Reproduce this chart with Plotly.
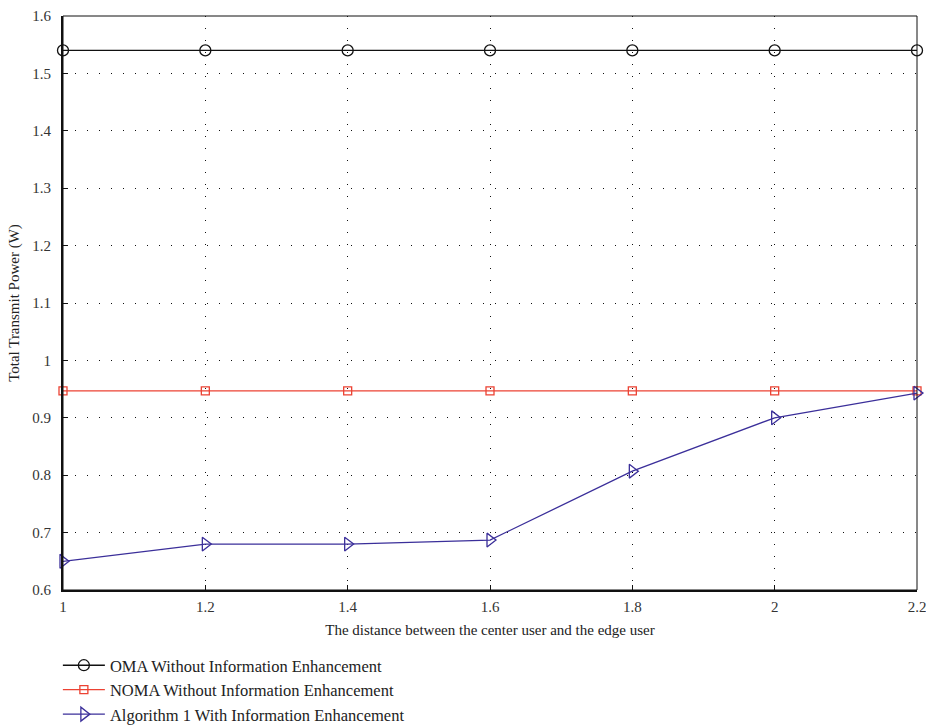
import plotly.graph_objects as go

distance = [1.0, 1.2, 1.4, 1.6, 1.8, 2.0, 2.2]
oma_power = [1.54, 1.54, 1.54, 1.54, 1.54, 1.54, 1.54]
noma_power = [0.947, 0.947, 0.947, 0.947, 0.947, 0.947, 0.947]
alg1_power = [0.650, 0.680, 0.680, 0.687, 0.807, 0.900, 0.943]

x_ticks = [1.0, 1.2, 1.4, 1.6, 1.8, 2.0, 2.2]
x_ticklabels = ["1", "1.2", "1.4", "1.6", "1.8", "2", "2.2"]
y_ticks = [0.6, 0.7, 0.8, 0.9, 1.0, 1.1, 1.2, 1.3, 1.4, 1.5, 1.6]
y_ticklabels = ["0.6", "0.7", "0.8", "0.9", "1", "1.1", "1.2", "1.3", "1.4", "1.5", "1.6"]

FONT = "Liberation Serif"
BLACK = "#111111"
RED = "#ec4233"
BLUE = "#3b2f9a"

fig = go.Figure()
fig.add_trace(go.Scatter(
    x=distance, y=oma_power, mode="lines+markers",
    name="OMA Without Information Enhancement",
    line=dict(color=BLACK, width=1.3),
    marker=dict(symbol="circle-open", size=11, color=BLACK, line=dict(width=1.3)),
    cliponaxis=False))
fig.add_trace(go.Scatter(
    x=distance, y=noma_power, mode="lines+markers",
    name="NOMA Without Information Enhancement",
    line=dict(color=RED, width=1.3),
    marker=dict(symbol="square-open", size=8, color=RED, line=dict(width=1.3)),
    cliponaxis=False))
fig.add_trace(go.Scatter(
    x=distance, y=alg1_power, mode="lines+markers",
    name="Algorithm 1 With Information Enhancement",
    line=dict(color=BLUE, width=1.3),
    marker=dict(symbol="triangle-right-open", size=12, color=BLUE, line=dict(width=1.3)),
    cliponaxis=False))

fig.add_shape(type="rect", xref="paper", yref="paper", x0=0, x1=1, y0=0, y1=1,
              line=dict(color=BLACK, width=1), layer="above")

fig.update_layout(
    width=926, height=728,
    margin=dict(l=63, r=9, t=16, b=138, autoexpand=False),
    plot_bgcolor="white", paper_bgcolor="white",
    font=dict(family=FONT, size=15, color="#333333"),
    xaxis=dict(
        range=[1.0, 2.2], tickvals=x_ticks, ticktext=x_ticklabels,
        showline=True, linecolor=BLACK, linewidth=2,
        ticks="inside", ticklen=5, tickcolor=BLACK, tickwidth=1,
        showgrid=True, gridcolor=BLACK, gridwidth=1, griddash="1px,11px",
        zeroline=False, ticklabeloverflow="allow", ticklabelstandoff=2,
        title=dict(text="The distance between the center user and the edge user",
                   font=dict(family=FONT, size=15, color="#222222"), standoff=10),
        tickfont=dict(family=FONT, size=15, color="#333333"),
        automargin=False,
    ),
    yaxis=dict(
        range=[0.6, 1.6], tickvals=y_ticks, ticktext=y_ticklabels,
        showline=True, linecolor=BLACK, linewidth=2,
        ticks="inside", ticklen=5, tickcolor=BLACK, tickwidth=1,
        showgrid=True, gridcolor=BLACK, gridwidth=1, griddash="1px,11px",
        zeroline=False, ticklabelstandoff=7,
        title=dict(text="Total Transmit Power (W)",
                   font=dict(family=FONT, size=15, color="#222222"), standoff=9),
        tickfont=dict(family=FONT, size=15, color="#333333"),
        automargin=False,
    ),
    legend=dict(
        x=-0.006, y=1 - 648 / 728, xanchor="left", yanchor="top", yref="container",
        bgcolor="rgba(0,0,0,0)", borderwidth=0,
        font=dict(family=FONT, size=16.5, color="#222222"),
        tracegroupgap=0, itemwidth=42,
    ),
    showlegend=True,
)

fig.write_html("out.html")
